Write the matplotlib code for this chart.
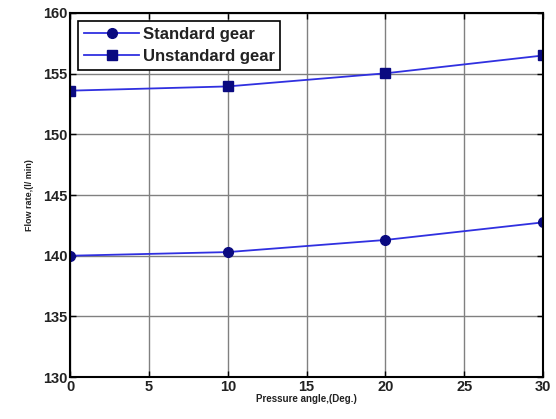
import matplotlib
matplotlib.use("Agg")
import matplotlib.pyplot as plt

angles = [0, 10, 20, 30]
standard = [140.0, 140.3, 141.3, 142.75]
unstandard = [153.6, 153.95, 155.03, 156.5]
xticks = [0, 5, 10, 15, 20, 25, 30]
yticks = [130, 135, 140, 145, 150, 155, 160]

plt.rcParams['font.family'] = ['Liberation Sans', 'DejaVu Sans']
plt.rcParams['font.weight'] = 'bold'

fig = plt.figure(figsize=(5.56, 4.19), dpi=100)
ax = fig.add_axes([0.126, 0.100, 0.851, 0.869])

ax.plot(angles, standard, color='#3030e0', lw=1.3, marker='o', ms=7,
        mfc='#0a0a80', mec='#0a0a80', label='Standard gear')
ax.plot(angles, unstandard, color='#3030e0', lw=1.3, marker='s', ms=7,
        mfc='#0a0a80', mec='#0a0a80', label='Unstandard gear')

ax.set_xlim(0, 30)
ax.set_ylim(130, 160)
ax.set_xticks(xticks)
ax.set_yticks(yticks)
ax.grid(True, color='#808080', lw=1.0)
ax.tick_params(direction='in', labelsize=10.5, length=4, width=1, pad=2,
               top=True, right=True, labelcolor='#222222')
for s in ax.spines.values():
    s.set_linewidth(1.5)

ax.set_xlabel('Pressure angle,(Deg.)', fontsize=7, fontweight='bold',
              color='#222222', labelpad=0)
ax.set_ylabel('Flow rate,(l/ min)', fontsize=6.5, fontweight='bold',
              color='#222222', labelpad=6)

leg = ax.legend(loc='upper left', fontsize=12, fancybox=False, framealpha=1,
                edgecolor='black', borderpad=0.35, handlelength=3.3,
                handletextpad=0.2, labelspacing=0.4, borderaxespad=0.5)
leg.get_frame().set_linewidth(1.2)
for t in leg.get_texts():
    t.set_color('#222222')

fig.savefig('out.png', dpi=100)
